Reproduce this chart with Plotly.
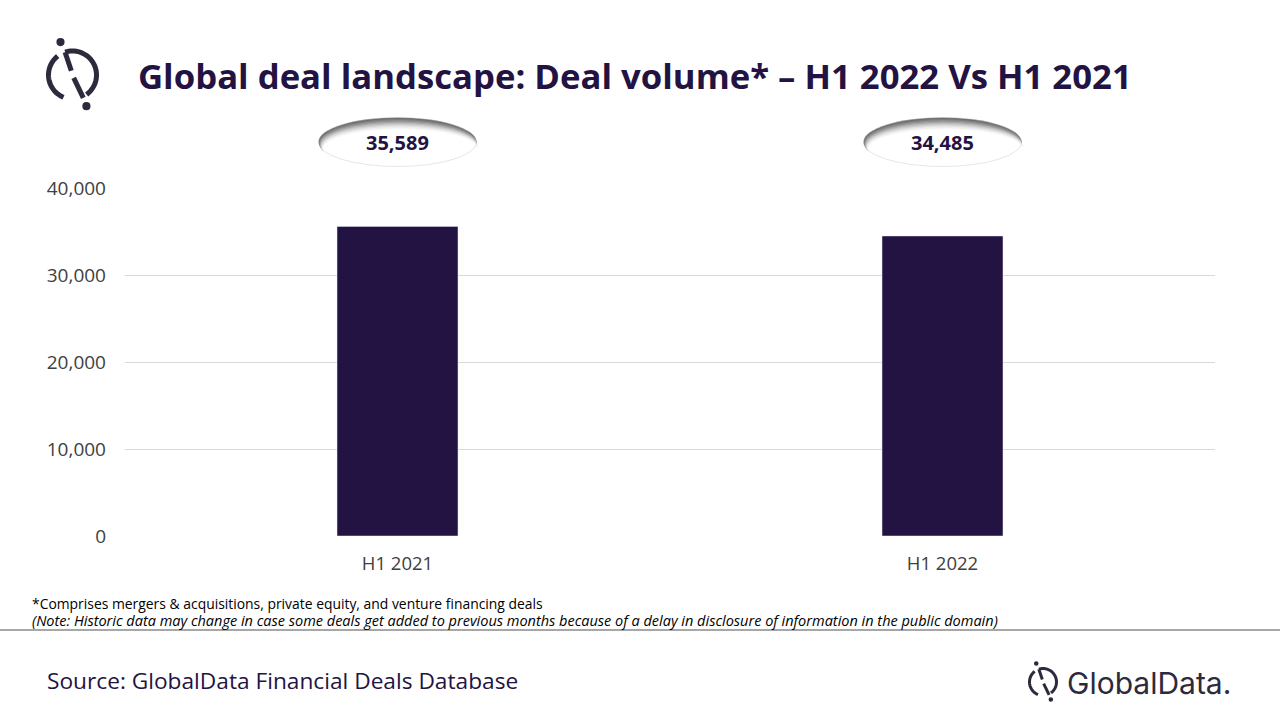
import math
import plotly.graph_objects as go

# ---------------- data ----------------
categories = ["H1 2021", "H1 2022"]
deal_volume = [35589, 34485]
y_ticks = [0, 10000, 20000, 30000, 40000]
y_tick_labels = ["0", "10,000", "20,000", "30,000", "40,000"]

title_text = "Global deal landscape: Deal volume* \u2013 H1 2022 Vs H1 2021"
footnote_1 = "*Comprises mergers & acquisitions, private equity, and venture financing deals"
footnote_2 = ("(Note: Historic data may change in case some deals get added to previous months "
              "because of a delay in disclosure of information in the public domain)")
source_text = "Source: GlobalData Financial Deals Database"
brand_text = "GlobalData."

# ---------------- layout helpers ----------------
W, H = 1280, 720
L, R, T, B = 125, 65, 188, 184
PW, PH = W - L - R, H - T - B

def px(x):
    return (x - L) / PW

def py(y):
    return (H - B - y) / PH

DARK = "#231342"
LOGO = "#2d2a3e"

fig = go.Figure()
fig.add_trace(go.Bar(
    x=categories, y=deal_volume, marker_color=DARK, width=0.222,
    hoverinfo="x+y",
))

shapes = []
annotations = []

# value bubbles above the bars (white ellipse with inner shadow at top-left)
for i, (cat, val) in enumerate(zip(categories, deal_volume)):
    cy, hw, hh = 142, 79, 24.5
    shapes.append(dict(
        type="circle", xref="x", xsizemode="pixel", xanchor=i,
        x0=-hw, x1=hw, yref="paper", y0=py(cy + hh), y1=py(cy - hh),
        fillcolor="#6a6a6a", line=dict(width=0), layer="above",
    ))
    greys = ["#7c7c7c", "#909090", "#a6a6a6", "#bbbbbb", "#cfcfcf", "#e0e0e0", "#eeeeee", "#f8f8f8", "#ffffff"]
    for k, col in enumerate(greys, start=1):
        dy = 1.3 * k
        dx = 0.5 * k
        shapes.append(dict(
            type="circle", xref="x", xsizemode="pixel", xanchor=i,
            x0=-hw + dx, x1=hw + dx * 0.3,
            yref="paper", y0=py(cy + hh + 0.25 * dy), y1=py(cy - hh + dy),
            fillcolor=col, line=dict(width=0), layer="above",
        ))
    shapes.append(dict(
        type="circle", xref="x", xsizemode="pixel", xanchor=i,
        x0=-hw, x1=hw, yref="paper", y0=py(cy + hh), y1=py(cy - hh),
        fillcolor="rgba(0,0,0,0)", line=dict(width=1, color="rgba(200,200,200,0.45)"), layer="above",
    ))
    annotations.append(dict(
        x=cat, xref="x", y=py(cy + 1), yref="paper", text=f"<b>{val:,}</b>",
        showarrow=False, font=dict(family="Open Sans", size=20, color=DARK),
        xanchor="center", yanchor="middle",
    ))

# title
annotations.append(dict(
    x=px(136), y=py(75), xref="paper", yref="paper", text=f"<b>{title_text}</b>",
    showarrow=False, xanchor="left", yanchor="middle",
    font=dict(family="Open Sans", size=34.7, color=DARK),
))

# footnotes
annotations.append(dict(
    x=px(30), y=py(603), xref="paper", yref="paper", text=footnote_1,
    showarrow=False, xanchor="left", yanchor="middle",
    font=dict(family="Open Sans", size=13.9, color="#000000"),
))
annotations.append(dict(
    x=px(30), y=py(620), xref="paper", yref="paper", text=f"<i>{footnote_2}</i>",
    showarrow=False, xanchor="left", yanchor="middle",
    font=dict(family="Open Sans", size=14.5, color="#000000"),
))
annotations.append(dict(
    x=px(45), y=py(680), xref="paper", yref="paper", text=source_text,
    showarrow=False, xanchor="left", yanchor="middle",
    font=dict(family="Open Sans", size=22.7, color=DARK),
))
annotations.append(dict(
    x=px(1065), y=py(683), xref="paper", yref="paper", text=brand_text,
    showarrow=False, xanchor="left", yanchor="middle",
    font=dict(family="Inter", size=30, color=LOGO),
))

# separator line
shapes.append(dict(type="line", xref="paper", yref="paper", x0=px(0), x1=px(W),
                   y0=py(630), y1=py(630), line=dict(color="#8a8a8a", width=1.5)))

# logo helper (pixel geometry converted to paper coordinates)
def pt(cx, cy, r, a):
    a = math.radians(a)
    return cx + r * math.cos(a), cy - r * math.sin(a)

def arc_path(cx, cy, r, a0, a1, n=36):
    pts = [pt(cx, cy, r, a0 + (a1 - a0) * k / n) for k in range(n + 1)]
    return "M " + " L ".join(f"{px(x):.5f},{py(y):.5f}" for x, y in pts)

def seg_path(points):
    return "M " + " L ".join(f"{px(x):.5f},{py(y):.5f}" for x, y in points)

def logo(cx, cy, r, lw):
    s = []
    line = dict(color=LOGO, width=lw)
    s.append(dict(type="path", xref="paper", yref="paper", path=arc_path(cx, cy, r, 108, -54), line=line))
    s.append(dict(type="path", xref="paper", yref="paper", path=arc_path(cx, cy, r, 128, 248), line=line))
    s.append(dict(type="path", xref="paper", yref="paper",
                  path=seg_path([pt(cx, cy, r, 108), (cx - 0.05 * r, cy - 0.18 * r)]), line=line))
    s.append(dict(type="path", xref="paper", yref="paper",
                  path=seg_path([(cx + 0.05 * r, cy + 0.12 * r), (cx + 0.45 * r, cy + 0.95 * r)]), line=line))
    d = r * 0.17
    for (dx, dy) in [(-0.5, -1.37), (0.58, 1.3)]:
        ox, oy = cx + dx * r, cy + dy * r
        s.append(dict(type="circle", xref="paper", yref="paper",
                      x0=px(ox - d), x1=px(ox + d), y0=py(oy + d), y1=py(oy - d),
                      fillcolor=LOGO, line=dict(width=0)))
    return s

shapes += logo(72.5, 75, 24, 5)
shapes += logo(1043, 682, 13.5, 3)

fig.update_layout(
    width=W, height=H,
    margin=dict(l=L, r=R, t=T, b=B),
    paper_bgcolor="white", plot_bgcolor="white",
    showlegend=False,
    bargap=0.778,
    shapes=shapes, annotations=annotations,
    xaxis=dict(type="category", showgrid=False, showline=False, zeroline=False,
               ticks="", ticklabelstandoff=14,
               tickfont=dict(family="Open Sans", size=18.5, color="#404040"),
               fixedrange=True),
    yaxis=dict(range=[0, 40000], tickvals=y_ticks, ticktext=y_tick_labels,
               showgrid=True, gridcolor="#d9d9d9", gridwidth=1, zeroline=False,
               showline=False, ticks="", ticklabelstandoff=18,
               tickfont=dict(family="Open Sans", size=19, color="#404040"),
               fixedrange=True),
)

fig.write_html("out.html", config={"displayModeBar": False},
               post_script="document.body.style.margin='0';")
